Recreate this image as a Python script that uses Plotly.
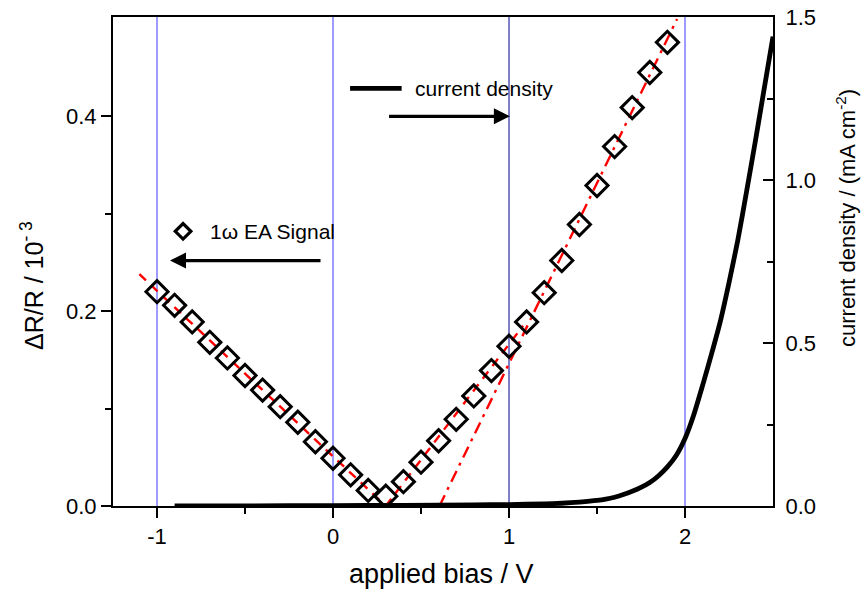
import plotly.graph_objects as go

# Electroabsorption (1ω) signal vs applied bias
bias = [-1.0, -0.9, -0.8, -0.7, -0.6, -0.5, -0.4, -0.3, -0.2, -0.1,
        0.0, 0.1, 0.2, 0.3, 0.4, 0.5, 0.6, 0.7, 0.8, 0.9,
        1.0, 1.1, 1.2, 1.3, 1.4, 1.5, 1.6, 1.7, 1.8, 1.9]
ea_signal = [0.220, 0.206, 0.189, 0.168, 0.152, 0.134, 0.119, 0.102, 0.086, 0.066,
             0.049, 0.032, 0.016, 0.010, 0.025, 0.045, 0.067, 0.089, 0.113, 0.139,
             0.164, 0.189, 0.219, 0.252, 0.289, 0.329, 0.369, 0.409, 0.445, 0.476]

# Linear fits (end points)
fit_left_x = [-1.1, 0.3]
fit_left_y = [0.238, 0.0]
fit_right_x = [0.3, 1.08]
fit_right_y = [0.0, 0.185]
fit_steep_x = [0.605, 1.955]
fit_steep_y = [0.0, 0.5]

# Current density vs applied bias
jv_bias = [-0.9, -0.5, 0.0, 0.4, 0.8, 1.0, 1.2, 1.3, 1.4, 1.5, 1.55, 1.6, 1.65,
           1.7, 1.75, 1.8, 1.85, 1.9, 1.95, 2.0, 2.05, 2.1, 2.15, 2.2, 2.25,
           2.3, 2.35, 2.4, 2.45, 2.5]
jv_current = [0.0002, 0.0005, 0.0012, 0.0022, 0.0035, 0.0045, 0.0065, 0.0085, 0.012,
              0.017, 0.021, 0.027, 0.035, 0.045, 0.057, 0.072, 0.093, 0.12, 0.155,
              0.207, 0.28, 0.37, 0.465, 0.565, 0.685, 0.815, 0.965, 1.12, 1.28, 1.44]

# Vertical guide lines
guide_x = [-1, 0, 1, 2]
guide_colors = ["#3a3aff", "#3a3aff", "#000090", "#3a3aff"]

FONT = "Liberation Sans, Arial, sans-serif"
RED = "#ff0000"

fig = go.Figure()

fig.add_trace(go.Scatter(x=fit_left_x, y=fit_left_y, mode="lines",
                         line=dict(color=RED, width=2.4, dash="9px,7px"),
                         showlegend=False))
fig.add_trace(go.Scatter(x=fit_right_x, y=fit_right_y, mode="lines",
                         line=dict(color=RED, width=2.4, dash="9px,7px"),
                         showlegend=False))
fig.add_trace(go.Scatter(x=fit_steep_x, y=fit_steep_y, mode="lines",
                         line=dict(color=RED, width=2.4, dash="12px,6px,3px,6px"),
                         showlegend=False))
fig.add_trace(go.Scatter(x=bias, y=ea_signal, mode="markers",
                         marker=dict(symbol="diamond-open", size=17, color="black",
                                     line=dict(color="black", width=3)),
                         showlegend=False))
fig.add_trace(go.Scatter(x=jv_bias, y=jv_current, mode="lines", yaxis="y2",
                         line=dict(color="black", width=4.8, shape="spline", smoothing=0.6),
                         showlegend=False))

# Legend-like key marks
fig.add_trace(go.Scatter(x=[-0.852], y=[0.282], mode="markers",
                         marker=dict(symbol="diamond-open", size=12, color="black",
                                     line=dict(color="black", width=3.2)),
                         showlegend=False, cliponaxis=False))
fig.add_trace(go.Scatter(x=[0.097, 0.39], y=[0.4287, 0.4287], mode="lines",
                         line=dict(color="black", width=4.8), showlegend=False))

shapes = [dict(type="line", xref="x", yref="paper", x0=gx, x1=gx, y0=0, y1=1,
               line=dict(color=c, width=1), layer="below")
          for gx, c in zip(guide_x, guide_colors)]

annotations = [
    dict(x=-0.71, y=0.282, xref="x", yref="y", text="1ω EA Signal", showarrow=False,
         xanchor="left", yanchor="middle", font=dict(size=21, family=FONT, color="black")),
    dict(x=0.454, y=0.4287, xref="x", yref="y", text="current density", showarrow=False,
         xanchor="left", yanchor="middle", font=dict(size=21, family=FONT, color="black")),
    dict(x=-0.926, y=0.252, ax=-0.0625, ay=0.252, xref="x", yref="y", axref="x", ayref="y",
         text="", showarrow=True, arrowhead=2, arrowsize=1, arrowwidth=3.2, arrowcolor="black"),
    dict(x=1.005, y=0.40, ax=0.31, ay=0.40, xref="x", yref="y", axref="x", ayref="y",
         text="", showarrow=True, arrowhead=2, arrowsize=1, arrowwidth=3.2, arrowcolor="black"),
    # axis titles (pixel positions on the page, converted below)
    dict(x=441, y=595 - 574, text="applied bias / V",
         showarrow=False, font=dict(size=27, family=FONT, color="black")),
    dict(x=32, y=595 - 286, text="ΔR/R / 10<sup>- 3</sup>", textangle=-90,
         showarrow=False, font=dict(size=25, family=FONT, color="black")),
    dict(x=846, y=595 - 218, text="current density / (mA cm<sup>-2</sup>)", textangle=-90,
         showarrow=False, font=dict(size=22, family=FONT, color="black")),
]

W, H = 862, 595
L, R, T, B = 113, 89, 17, 89
pw, ph = W - L - R, H - T - B
for a in annotations[4:]:
    a["xref"] = "paper"
    a["yref"] = "paper"
    a["x"] = (a["x"] - L) / pw
    a["y"] = (a["y"] - B) / ph
    a["xanchor"] = "center"
    a["yanchor"] = "middle"

fig.update_layout(
    width=W, height=H,
    margin=dict(l=L, r=R, t=T, b=B, autoexpand=False),
    paper_bgcolor="white", plot_bgcolor="white",
    font=dict(family=FONT, size=22, color="black"),
    showlegend=False,
    shapes=shapes,
    annotations=annotations,
    xaxis=dict(
        range=[-1.25, 2.5], tickmode="array", tickvals=[-1, 0, 1, 2],
        ticktext=["-1", "0", "1", "2"],
        ticks="outside", ticklen=10, tickwidth=2, tickcolor="black",
        minor=dict(tickvals=[-0.5, 0.5, 1.5], ticks="outside", ticklen=6,
                   tickwidth=2, tickcolor="black", showgrid=False),
        showline=True, linecolor="black", linewidth=2, mirror=True,
        showgrid=False, zeroline=False, automargin=False,
        tickfont=dict(size=22),
    ),
    yaxis=dict(
        range=[0, 0.502], tickmode="array", tickvals=[0, 0.2, 0.4],
        ticktext=["0.0", "0.2", "0.4"],
        ticks="outside", ticklen=10, tickwidth=2, tickcolor="black",
        minor=dict(tickvals=[0.1, 0.3], ticks="outside", ticklen=6,
                   tickwidth=2, tickcolor="black", showgrid=False),
        showline=True, linecolor="black", linewidth=2,
        showgrid=False, zeroline=False, automargin=False,
        tickfont=dict(size=22),
    ),
    yaxis2=dict(
        range=[0, 1.5], overlaying="y", side="right", anchor="x",
        tickmode="array", tickvals=[0, 0.5, 1.0, 1.5],
        ticktext=["0.0", "0.5", "1.0", "1.5"],
        ticks="inside", ticklen=10, tickwidth=2, tickcolor="black",
        minor=dict(tickvals=[0.25, 0.75, 1.25], ticks="inside", ticklen=6,
                   tickwidth=2, tickcolor="black", showgrid=False),
        showline=True, linecolor="black", linewidth=2,
        showgrid=False, zeroline=False, automargin=False,
        tickfont=dict(size=22), ticklabelstandoff=6,
    ),
)

fig.write_html("out.html")
